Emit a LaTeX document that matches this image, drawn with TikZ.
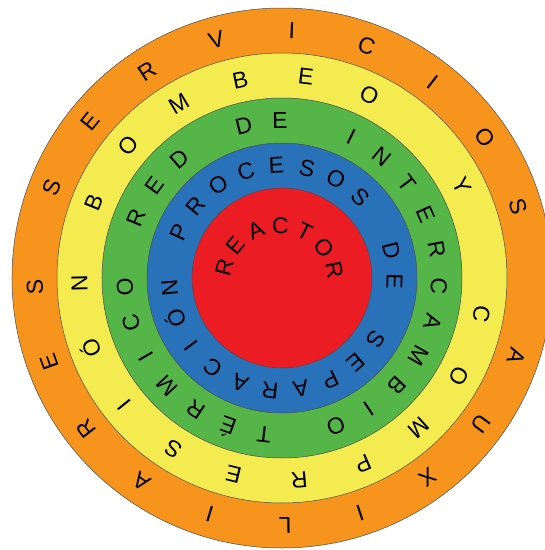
\documentclass[tikz,border=0pt]{standalone}
\usepackage{fontspec}
\setmainfont{Liberation Sans}
\definecolor{servicios}{HTML}{F7941D}
\definecolor{bombeo}{HTML}{F3EB4F}
\definecolor{intercambio}{HTML}{56B548}
\definecolor{procesos}{HTML}{2972BA}
\definecolor{reactor}{HTML}{EC1C24}
% letters placed one by one round a circle: name, radius, first angle, step, letters
\newcommand{\ringtext}[5]{\foreach \ch [count=\k from 0] in {#5}
  \node[letter,rotate={#3-#4*\k-90}] (#1\k) at ({#3-#4*\k}:#2) {\ch};}

\begin{document}
\begin{tikzpicture}[x=1pt,y=1pt,ring/.style={draw=black!70,line width=.5pt},
  letter/.style={font=\fontsize{23}{27}\selectfont,inner sep=0pt,text height=16.5pt,text depth=0pt}]
\clip (-282,-272) rectangle (263,278);
\filldraw[ring,fill=servicios] (0,0) circle[radius=270];
\filldraw[ring,fill=bombeo] (0,0) circle[radius=225];
\filldraw[ring,fill=intercambio] (0,0) circle[radius=180];
\filldraw[ring,fill=procesos] (0,0) circle[radius=135];
\filldraw[ring,fill=reactor] (0,0) circle[radius=90];
% outer ring
\ringtext{serv}{247.5}{158.5}{17.7}{S,E,R,V,I,C,I,O,S}
\ringtext{aux}{247.5}{-18.5}{17.7}{A,U,X,I,L,I,A,R,E,S}
% yellow ring
\ringtext{bomb}{203}{158}{18.7}{B,O,M,B,E,O}
\ringtext{y}{203}{27.1}{18.7}{Y}
\ringtext{comp}{203}{-10.3}{18.7}{C,O,M,P,R,E,S,I,Ó,N}
% green ring
\ringtext{red}{157.5}{157.6}{13.38}{R,E,D}
\ringtext{de}{157.5}{104.1}{13.38}{D,E}
\ringtext{inter}{157.5}{63.9}{13.38}{I,N,T,E,R,C,A,M,B,I,O}
\ringtext{term}{157.5}{-96.6}{13.38}{T,É,R,M,I,C,O}
% blue ring
\ringtext{proc}{113}{155.9}{15.75}{P,R,O,C,E,S,O,S}
\ringtext{pde}{113}{14.15}{15.75}{D,E}
\ringtext{sep}{113}{-33.1}{15.75}{S,E,P,A,R,A,C,I,Ó,N}
% centre, its arc sits a little off the middle
\begin{scope}[shift={(-3,-4)}]
\ringtext{reac}{57}{165}{25.5}{R,E,A,C,T,O,R}
\end{scope}
\end{tikzpicture}
\end{document}
